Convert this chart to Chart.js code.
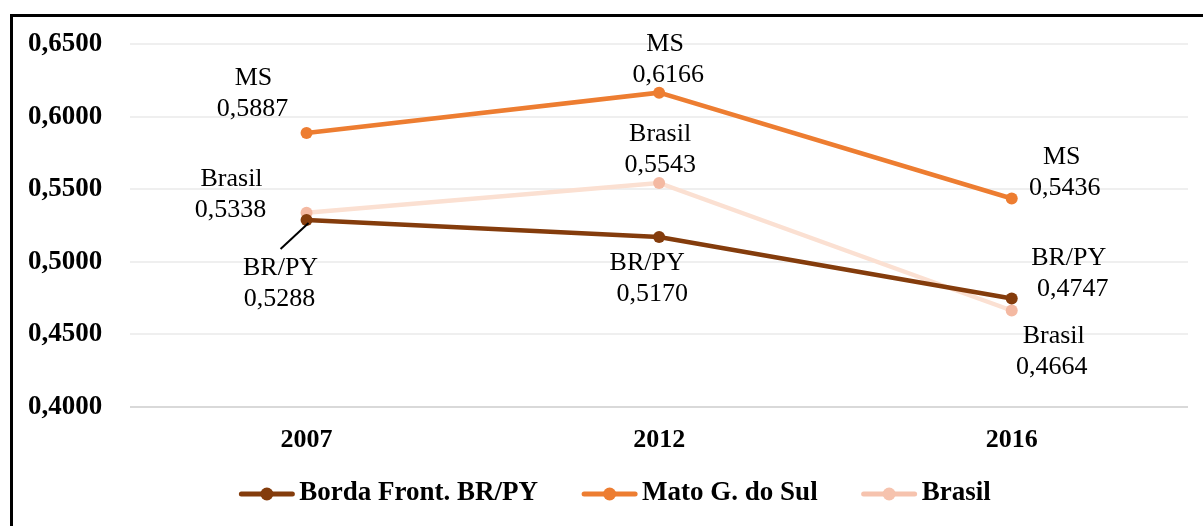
<!DOCTYPE html>
<html>
<head>
<meta charset="utf-8">
<script src="https://cdn.jsdelivr.net/npm/chart.js@4.4.1/dist/chart.umd.min.js"></script>
<style>
  html, body { margin: 0; padding: 0; background: #fff; overflow: hidden; }
  #wrap { position: relative; width: 1203px; height: 526px; overflow: hidden; }
  .rule { position: absolute; background: #000; }
  #topRule { left: 10px; top: 14px; width: 1193px; height: 3px; }
  #leftRule { left: 10px; top: 14px; width: 3px; height: 512px; }
  #myChart { position: absolute; left: 0; top: 0; }
</style>
</head>
<body>
<div id="wrap">
  <div class="rule" id="topRule"></div>
  <div class="rule" id="leftRule"></div>
  <canvas id="myChart" width="1203" height="526"></canvas>
</div>
<script>
const ctx = document.getElementById('myChart');

const labelsYears = ['2007', '2012', '2016'];
const seriesNames = ['Borda Front. BR/PY', 'Mato G. do Sul', 'Brasil'];
const shortNames = ['BR/PY', 'MS', 'Brasil'];
const dataBorda = [0.5288, 0.5170, 0.4747];
const dataMS = [0.5887, 0.6166, 0.5436];
const dataBrasil = [0.5338, 0.5543, 0.4664];
const yTicks = [0.40, 0.45, 0.50, 0.55, 0.60, 0.65];

const serif = "'Liberation Serif', 'Times New Roman', serif";
const fmt = v => v.toFixed(4).replace('.', ',');

// label offsets from each point: [dx, dy, dx of value line]
const labelOffsets = [
    [[-26, 48, -27], [-12, 26, -7], [57, -40, 61]],
    [[-53, -55, -54], [6, -48, 9], [50, -41, 53]],
    [[-75, -34, -76], [1, -49, 1], [42, 26, 40]]
];

const pointLabels = {
    id: 'pointLabels',
    afterDatasetsDraw(chart, args, opts) {
        const c = chart.ctx;
        c.save();
        c.font = opts.font;
        c.fillStyle = '#000';
        c.textAlign = 'center';
        c.textBaseline = 'middle';
        chart.data.datasets.forEach((ds, i) => {
            chart.getDatasetMeta(i).data.forEach((pt, j) => {
                const [dx, dy, vdx] = opts.offsets[i][j];
                c.fillText(opts.names[i], pt.x + dx, pt.y + dy);
                c.fillText(fmt(ds.data[j]), pt.x + vdx, pt.y + dy + opts.spacing);
            });
        });
        // leader line for BR/PY 2007
        const p = chart.getDatasetMeta(0).data[0];
        c.strokeStyle = '#000';
        c.lineWidth = 2;
        c.beginPath();
        c.moveTo(p.x - 26, p.y + 29);
        c.lineTo(p.x + 2, p.y + 3);
        c.stroke();
        c.restore();
    }
};

const lineLegend = {
    id: 'lineLegend',
    afterDraw(chart, args, opts) {
        const c = chart.ctx;
        c.save();
        c.font = opts.font;
        c.textBaseline = 'middle';
        c.textAlign = 'left';
        const ds = chart.data.datasets;
        const widths = ds.map(d => opts.lineLength + opts.textGap + c.measureText(d.label).width);
        const total = widths.reduce((a, b) => a + b, 0) + opts.itemGap * (ds.length - 1);
        let x = opts.centerX - total / 2;
        const y = opts.y;
        ds.forEach((d, i) => {
            const col = opts.colors[i];
            c.strokeStyle = col;
            c.lineWidth = 5;
            c.lineCap = 'round';
            c.beginPath();
            c.moveTo(x + 2, y + 1);
            c.lineTo(x + opts.lineLength - 2, y + 1);
            c.stroke();
            c.fillStyle = col;
            c.beginPath();
            c.arc(x + opts.lineLength / 2, y + 1, 6.5, 0, Math.PI * 2);
            c.fill();
            c.fillStyle = '#000';
            c.fillText(d.label, x + opts.lineLength + opts.textGap, y);
            x += widths[i] + opts.itemGap;
        });
        c.restore();
    }
};

new Chart(ctx, {
    type: 'line',
    data: {
        labels: labelsYears,
        datasets: [{
            label: seriesNames[0],
            data: dataBorda,
            borderColor: '#843C0C',
            backgroundColor: '#843C0C',
            pointBackgroundColor: '#843C0C'
        }, {
            label: seriesNames[1],
            data: dataMS,
            borderColor: '#ED7D31',
            backgroundColor: '#ED7D31',
            pointBackgroundColor: '#ED7D31'
        }, {
            label: seriesNames[2],
            data: dataBrasil,
            borderColor: '#FBE0D2',
            backgroundColor: '#F4B9A2',
            pointBackgroundColor: '#F4B9A2'
        }]
    },
    options: {
        responsive: false,
        animation: false,
        layout: {
            padding: { left: 0, right: 15, top: 44, bottom: 52 }
        },
        elements: {
            line: { borderWidth: 4.5, tension: 0 },
            point: { radius: 6, borderWidth: 0, hoverRadius: 6 }
        },
        plugins: {
            legend: { display: false },
            tooltip: { enabled: false },
            pointLabels: {
                font: '26px ' + serif,
                names: shortNames,
                offsets: labelOffsets,
                spacing: 31
            },
            lineLegend: {
                font: 'bold 27px ' + serif,
                colors: ['#843C0C', '#ED7D31', '#F6C3AE'],
                lineLength: 55,
                textGap: 5,
                itemGap: 44,
                centerX: 615,
                y: 493
            }
        },
        scales: {
            x: {
                offset: true,
                grid: { display: false, drawTicks: false },
                border: { display: false },
                ticks: {
                    color: '#000',
                    padding: 18,
                    font: { family: serif, size: 26, weight: 'bold' }
                }
            },
            y: {
                min: 0.4,
                max: 0.65,
                afterBuildTicks: axis => { axis.ticks = yTicks.map(v => ({ value: v })); },
                grid: {
                    drawTicks: false,
                    lineWidth: 2,
                    color: c => c.tick && c.tick.value === 0.4 ? '#D9D9D9' : '#EFEFEF'
                },
                border: { display: false },
                ticks: {
                    color: '#000',
                    padding: 28,
                    font: { family: serif, size: 27, weight: 'bold' },
                    callback: v => fmt(v)
                }
            }
        }
    },
    plugins: [pointLabels, lineLegend]
});
</script>
</body>
</html>
